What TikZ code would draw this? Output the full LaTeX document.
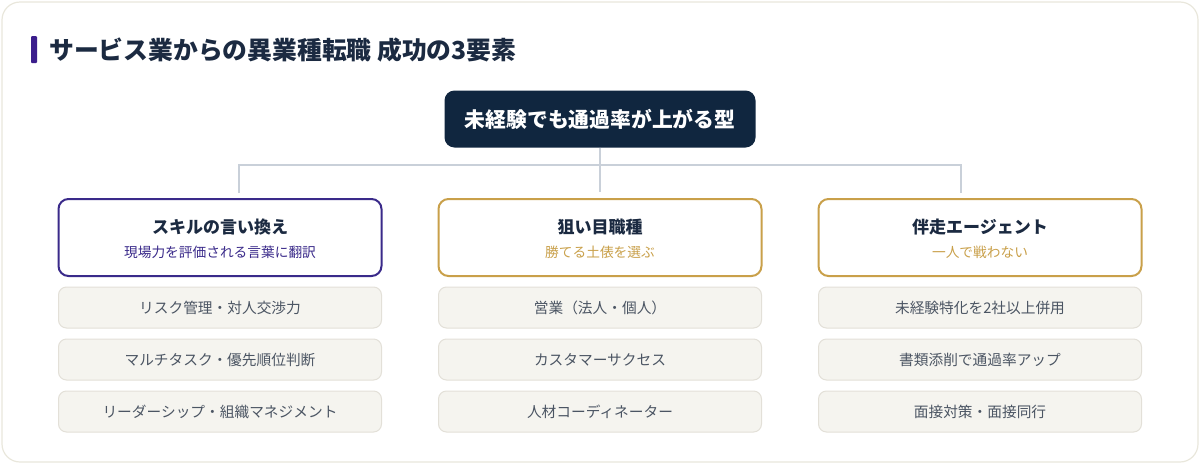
\documentclass[tikz,border=0pt]{standalone}
\usepackage{fontspec}
\setmainfont{Noto Sans CJK JP}
\definecolor{navy}{HTML}{10263F}
\definecolor{navytext}{HTML}{1B2A41}
\definecolor{accent}{HTML}{3B1E8C}
\definecolor{purpleline}{HTML}{3A2A8A}
\definecolor{gold}{HTML}{C9A04A}
\definecolor{connline}{HTML}{C9D0D9}
\definecolor{itemfill}{HTML}{F5F4EF}
\definecolor{itemline}{HTML}{E3E0D8}
\definecolor{itemtext}{HTML}{4B5563}
\definecolor{cardline}{HTML}{E9E7DC}
\begin{document}
\begin{tikzpicture}[x=1pt,y=-1pt,
  catbox/.style={draw, line width=2pt, rounded corners=10pt, fill=white,
    minimum width=323pt, minimum height=77pt, inner sep=0pt},
  itembox/.style={draw=itemline, line width=1pt, fill=itemfill, rounded corners=8pt,
    minimum width=323pt, minimum height=41pt, inner sep=0pt, text=itemtext,
    font=\fontsize{14.7}{17}\selectfont},
  cattitle/.style={inner sep=0pt, text=navytext, font=\fontsize{17}{20}\selectfont\bfseries},
  catsub/.style={inner sep=0pt, font=\fontsize{13.7}{16}\selectfont},
  conn/.style={draw=connline, line width=2pt}]
\useasboundingbox (0,0) rectangle (1200,464);
\path[draw=cardline, line width=1.2pt, fill=white, rounded corners=18pt] (2,2) rectangle (1198,462);

\fill[accent, rounded corners=1pt] (31,36) rectangle (37,63);
\node[anchor=west, inner sep=0pt, text=navytext, font=\fontsize{24.8}{28}\selectfont\bfseries]
  (title) at (49,50) {サービス業からの異業種転職 成功の3要素};

\node[fill=navy, rounded corners=10pt, minimum width=311pt, minimum height=57pt, text=white,
  font=\fontsize{20.8}{24}\selectfont\bfseries] (top) at (600,119) {未経験でも通過率が上がる型};

\node[catbox, draw=purpleline] (skill) at (220,237.5) {};
\node[catbox, draw=gold] (target) at (600,237.5) {};
\node[catbox, draw=gold] (agent) at (980,237.5) {};

\node[cattitle] (skillt) at ([yshift=10.5pt]skill.center) {スキルの言い換え};
\node[catsub, text=purpleline] (skills) at ([yshift=-14.5pt]skill.center) {現場力を評価される言葉に翻訳};
\node[cattitle] (targett) at ([yshift=10.5pt]target.center) {狙い目職種};
\node[catsub, text=gold] (targets) at ([yshift=-14.5pt]target.center) {勝てる土俵を選ぶ};
\node[cattitle] (agentt) at ([yshift=10.5pt]agent.center) {伴走エージェント};
\node[catsub, text=gold] (agents) at ([yshift=-14.5pt]agent.center) {一人で戦わない};

\coordinate (bus) at (600,165);
\coordinate (drop1) at (239,193);
\coordinate (drop3) at (961,193);
\draw[conn] (top.south) -- (bus) -- ([yshift=6pt]target.north);
\draw[conn] (drop1) |- (bus) -| (drop3);

\node[itembox] (skill1) at (220,307.5) {リスク管理・対人交渉力};
\node[itembox] (skill2) at (220,359.5) {マルチタスク・優先順位判断};
\node[itembox] (skill3) at (220,411.5) {リーダーシップ・組織マネジメント};

\node[itembox] (target1) at (600,307.5) {営業（法人・個人）};
\node[itembox] (target2) at (600,359.5) {カスタマーサクセス};
\node[itembox] (target3) at (600,411.5) {人材コーディネーター};

\node[itembox] (agent1) at (980,307.5) {未経験特化を2社以上併用};
\node[itembox] (agent2) at (980,359.5) {書類添削で通過率アップ};
\node[itembox] (agent3) at (980,411.5) {面接対策・面接同行};
\end{tikzpicture}
\end{document}
